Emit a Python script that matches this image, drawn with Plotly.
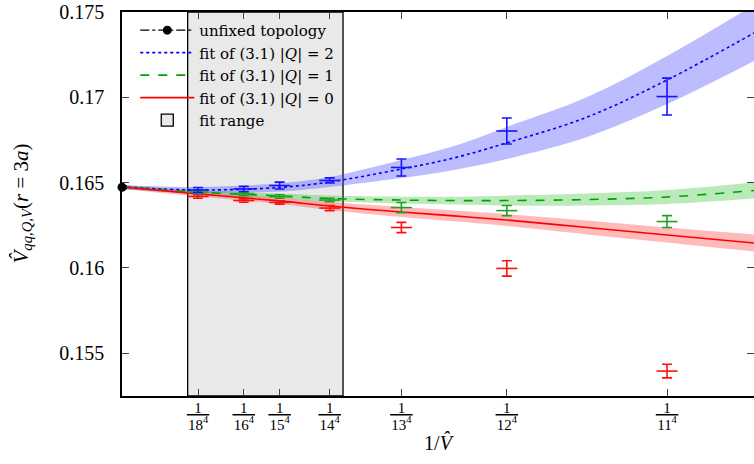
import plotly.graph_objects as go

# ---------------- data ----------------
L_vals = [18, 16, 15, 14, 13, 12, 11]
num_text = ["<u>\u00a0\u00a01\u00a0\u00a0</u>"] * len(L_vals)
den_text = [f"{L}<sup>4</sup>" for L in L_vals]

q2_vals = [0.16456, 0.16462, 0.16482, 0.16512, 0.16588, 0.16802, 0.17004]
q2_errs = [0.00015, 0.00015, 0.00020, 0.00015, 0.00050, 0.00076, 0.00108]
q1_vals = [0.16444, 0.16433, 0.16418, 0.16397, 0.16353, 0.16335, 0.16271]
q1_errs = [0.00010, 0.00010, 0.00010, 0.00010, 0.00030, 0.00030, 0.00035]
q0_vals = [0.16418, 0.16394, 0.16383, 0.16350, 0.16236, 0.15996, 0.15394]
q0_errs = [0.00010, 0.00010, 0.00010, 0.00015, 0.00030, 0.00045, 0.00040]

unfixed_x = [0.0]
unfixed_y = [0.16472]
unfixed_err = [0.00008]

fit_x = [0.0, 9.53e-6, 1.975e-5, 2.60e-5, 3.50e-5, 4.16e-5, 4.82e-5, 5.83e-5, 6.83e-5, 7.92e-5]
fit_q2 = [0.16474, 0.16456, 0.16471, 0.16503, 0.16579, 0.16644, 0.16732, 0.16884, 0.17101, 0.17377]
fit_q2_band = [0.00012, 0.00018, 0.00024, 0.00029, 0.00053, 0.00070, 0.00094, 0.00117, 0.00141, 0.00164]
fit_q1 = [0.16474, 0.16444, 0.16421, 0.16406, 0.16397, 0.16394, 0.16394, 0.16400, 0.16415, 0.16453]
fit_q1_band = [0.00012, 0.00012, 0.00015, 0.00018, 0.00020, 0.00023, 0.00029, 0.00035, 0.00041, 0.00047]
fit_q0 = [0.16474, 0.16433, 0.16392, 0.16362, 0.16327, 0.16304, 0.16280, 0.16236, 0.16192, 0.16145]
fit_q0_band = [0.00012, 0.00015, 0.00018, 0.00023, 0.00029, 0.00032, 0.00035, 0.00041, 0.00044, 0.00050]

fit_range = [8.23e-6, 2.77e-5]
x_range = [0.0, 7.92e-5]
y_range = [0.152478, 0.175]
y_ticks = [0.155, 0.16, 0.165, 0.17, 0.175]
y_ticktext = ["0.155", "0.16", "0.165", "0.17", "0.175"]

x_pts = [1.0 / L**4 for L in L_vals]

FONT = "Liberation Serif"
LEGFONT = "DejaVu Serif"
BLUE = "#1515ff"
GREEN = "#22a022"
RED = "#ff1010"

fig = go.Figure()

def band(vals, errs, color):
    lo = [v - e for v, e in zip(vals, errs)]
    hi = [v + e for v, e in zip(vals, errs)]
    fig.add_trace(go.Scatter(x=fit_x, y=lo, mode="lines", line=dict(width=0, shape="spline"),
                             showlegend=False, hoverinfo="skip"))
    fig.add_trace(go.Scatter(x=fit_x, y=hi, mode="lines", line=dict(width=0, shape="spline"),
                             fill="tonexty", fillcolor=color, showlegend=False, hoverinfo="skip"))

band(fit_q0, fit_q0_band, "rgba(255,40,40,0.32)")
band(fit_q1, fit_q1_band, "rgba(40,190,40,0.32)")
band(fit_q2, fit_q2_band, "rgba(70,70,255,0.36)")

fig.add_trace(go.Scatter(x=fit_x, y=fit_q2, mode="lines", name="fit of (3.1) |<i>Q</i>| = 2",
                         line=dict(color="#0000ff", width=1.6, dash="dot", shape="spline"), legendrank=2))
fig.add_trace(go.Scatter(x=fit_x, y=fit_q1, mode="lines", name="fit of (3.1) |<i>Q</i>| = 1",
                         line=dict(color="#00a000", width=1.6, dash="dash", shape="spline"), legendrank=3))
fig.add_trace(go.Scatter(x=fit_x, y=fit_q0, mode="lines", name="fit of (3.1) |<i>Q</i>| = 0",
                         line=dict(color="#ff0000", width=1.6, shape="spline"), legendrank=4))

def points(vals, errs, color):
    fig.add_trace(go.Scatter(
        x=x_pts, y=vals, mode="markers", showlegend=False,
        marker=dict(symbol="line-ew", size=15, line=dict(color=color, width=1.6)),
        error_y=dict(type="data", array=errs, width=5, thickness=1.6, color=color)))

points(q0_vals, q0_errs, RED)
points(q1_vals, q1_errs, GREEN)
points(q2_vals, q2_errs, BLUE)

fig.add_trace(go.Scatter(
    x=unfixed_x, y=unfixed_y, mode="lines+markers", name="unfixed topology", legendrank=1,
    line=dict(color="black", width=1.3, dash="dashdot"),
    marker=dict(color="black", size=9, symbol="circle"),
    error_y=dict(type="data", array=unfixed_err, width=5, thickness=1.3, color="black"),
    cliponaxis=False))

# invisible carrier so the numerator axis is drawn
fig.add_trace(go.Scatter(x=x_pts, y=q2_vals, xaxis="x2", yaxis="y", mode="markers",
                         marker=dict(opacity=0), showlegend=False, hoverinfo="skip"))

fig.add_shape(type="rect", xref="x", yref="paper", x0=fit_range[0], x1=fit_range[1], y0=0, y1=1,
              fillcolor="#e9e9e9", line=dict(color="black", width=1.3), layer="below",
              showlegend=True, name="fit range", legendrank=5)

fig.update_layout(
    width=754, height=464,
    margin=dict(l=122, r=0, t=12, b=68, autoexpand=False),
    plot_bgcolor="white", paper_bgcolor="white",
    font=dict(family=FONT, size=18, color="black"),
    showlegend=True,
    legend=dict(x=0.021, y=0.995, xanchor="left", yanchor="top", bgcolor="rgba(0,0,0,0)",
                font=dict(family=LEGFONT, size=15), tracegroupgap=0, itemwidth=54,
                traceorder="normal"),
    xaxis=dict(range=x_range, tickvals=x_pts, ticktext=den_text, ticks="inside", ticklen=7,
               tickwidth=1.2, showline=True, linewidth=1.5, linecolor="black", mirror="ticks",
               showgrid=False, zeroline=False, tickfont=dict(size=15), ticklabelstandoff=14,
               automargin=False,
               title=dict(text="1/<i>V\u0302</i>", font=dict(size=20), standoff=4)),
    xaxis2=dict(range=x_range, overlaying="x", side="bottom", anchor="y", tickvals=x_pts,
                ticktext=num_text, ticks="", showline=False, showgrid=False, zeroline=False,
                tickfont=dict(size=15), ticklabelstandoff=1, automargin=False),
    yaxis=dict(range=y_range, tickvals=y_ticks, ticktext=y_ticktext, ticks="inside", ticklen=7,
               tickwidth=1.2, showline=True, linewidth=1.5, linecolor="black", mirror="ticks",
               showgrid=False, zeroline=False, tickfont=dict(size=20), ticklabelstandoff=12,
               ticklabeloverflow="allow", automargin=False),
    annotations=[dict(text="<i>V\u0302</i><sub><i>qq,Q,V</i></sub>(<i>r</i> = 3<i>a</i>)",
                      xref="paper", yref="paper", x=-0.159, y=0.5, textangle=-90,
                      showarrow=False, font=dict(size=21), xanchor="center", yanchor="middle")],
)

fig.write_html("out.html", config={"displayModeBar": False},
               post_script="document.body.style.margin='0';document.body.style.overflow='hidden';")
